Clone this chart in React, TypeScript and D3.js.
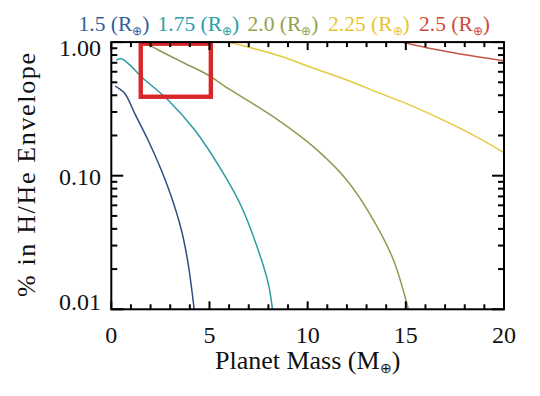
import React from 'react';
import * as d3 from 'd3';

const W = 540;
const H = 396;
const PL = 111.3, PR = 504, PT = 42.1, PB = 309.3;

// Series: planet mass (Earth masses) vs % envelope
const massR15 = [0.2, 0.68, 1.19, 1.87, 2.55, 3.06, 3.57, 3.91, 4.22];
const envR15 = [0.469, 0.414, 0.293, 0.185, 0.11, 0.0696, 0.0392, 0.0221, 0.01];

const massR175 = [0.26, 0.51, 0.9, 1.53, 2.89, 4.25, 5.61, 6.63, 7.48, 7.99, 8.21];
const envR175 = [0.735, 0.75, 0.684, 0.551, 0.369, 0.22, 0.11, 0.0586, 0.0278, 0.0157, 0.01];

const massR20 = [1.65, 2.4, 3.6, 4.93, 5.69, 8.5, 10.29, 11.99, 13.35, 14.37, 15.13];
const envR20 = [1.0, 0.873, 0.71, 0.567, 0.477, 0.261, 0.165, 0.0929, 0.0466, 0.0234, 0.01];

const massR225 = [5.95, 7.2, 8.59, 10.3, 11.99, 13.7, 15.39, 17.93, 20];
const envR225 = [1.0, 0.9, 0.787, 0.638, 0.52, 0.413, 0.329, 0.22, 0.149];

const massR25 = [14.8, 16, 17.5, 20];
const envR25 = [1.0, 0.912, 0.83, 0.726];

const seriesNames = ['1.5', '1.75', '2.0', '2.25', '2.5'];
const lineColors = ['#2c4f82', '#2a9ca2', '#8d9c52', '#e2cc3c', '#c4544a'];
const legendColors = ['#2f5f9c', '#2c9ea8', '#93a24c', '#e8c430', '#d04a3a'];
const legendX = [78.5, 157.5, 247.5, 328, 419];

// Highlight box (data coordinates)
const boxMass = [1.5, 5.07];
const boxEnv = [0.39, 0.973];

const xMajor = [0, 5, 10, 15, 20];
const xMajorLabels = ['0', '5', '10', '15', '20'];
const xMinor = [1, 2, 3, 4, 6, 7, 8, 9, 11, 12, 13, 14, 16, 17, 18, 19];
const yMajor = [0.01, 0.1, 1];
const yMajorLabels = ['0.01', '0.10', '1.00'];
const yMinor = [0.02, 0.03, 0.04, 0.05, 0.06, 0.07, 0.08, 0.09, 0.2, 0.3, 0.4, 0.5, 0.6, 0.7, 0.8, 0.9];
const yLabelBaselines = [309.5, 184.5, 56];

const FONT = '"Liberation Serif", "Times New Roman", serif';

export default function App() {
  const x = d3.scaleLinear().domain([0, 20]).range([PL, PR]);
  const y = d3.scaleLog().domain([0.01, 1]).range([PB, PT]);
  const line = d3
    .line<[number, number]>()
    .x((d) => x(d[0]))
    .y((d) => y(d[1]))
    .curve(d3.curveCatmullRom.alpha(0.5));

  const series = [
    [massR15, envR15],
    [massR175, envR175],
    [massR20, envR20],
    [massR225, envR225],
    [massR25, envR25],
  ];

  const xMajLen = 8, xMinLen = 5, yMajLen = 12, yMinLen = 6;

  return (
    <svg
      width={W}
      height={H}
      style={{ position: 'absolute', left: 0, top: 0, background: '#fff' }}
      fontFamily={FONT}
    >
      <defs>
        <clipPath id="plotclip">
          <rect x={PL} y={PT} width={PR - PL} height={PB - PT} />
        </clipPath>
      </defs>

      {/* Legend */}
      {seriesNames.map((n, i) => (
        <text key={n} x={legendX[i]} y={31} fontSize={21.5} fill={legendColors[i]}>
          {n} (R
          <tspan fontSize={12} dy={4}>⊕</tspan>
          <tspan dy={-4}>)</tspan>
        </text>
      ))}

      {/* Curves */}
      <g clipPath="url(#plotclip)">
        {series.map((s, i) => (
          <path
            key={i}
            d={line(s[0].map((m, j) => [m, s[1][j]]) as [number, number][]) || ''}
            fill="none"
            stroke={lineColors[i]}
            strokeWidth={1.5}
          />
        ))}
      </g>

      {/* Highlight box */}
      <rect
        x={x(boxMass[0])}
        y={y(boxEnv[1])}
        width={x(boxMass[1]) - x(boxMass[0])}
        height={y(boxEnv[0]) - y(boxEnv[1])}
        fill="none"
        stroke="#d8262a"
        strokeWidth={4.4}
      />

      {/* Ticks */}
      <g stroke="#000" strokeWidth={2}>
        {xMajor.map((v) => (
          <g key={'xM' + v}>
            <line x1={x(v)} x2={x(v)} y1={PB} y2={PB - xMajLen} />
            <line x1={x(v)} x2={x(v)} y1={PT} y2={PT + xMajLen} />
          </g>
        ))}
        {xMinor.map((v) => (
          <g key={'xm' + v}>
            <line x1={x(v)} x2={x(v)} y1={PB} y2={PB - xMinLen} />
            <line x1={x(v)} x2={x(v)} y1={PT} y2={PT + xMinLen} />
          </g>
        ))}
        {yMajor.map((v) => (
          <g key={'yM' + v}>
            <line x1={PL} x2={PL + yMajLen} y1={y(v)} y2={y(v)} />
            <line x1={PR} x2={PR - yMajLen} y1={y(v)} y2={y(v)} />
          </g>
        ))}
        {yMinor.map((v) => (
          <g key={'ym' + v}>
            <line x1={PL} x2={PL + yMinLen} y1={y(v)} y2={y(v)} />
            <line x1={PR} x2={PR - yMinLen} y1={y(v)} y2={y(v)} />
          </g>
        ))}
        <rect x={PL} y={PT} width={PR - PL} height={PB - PT} fill="none" />
      </g>

      {/* Tick labels */}
      {xMajor.map((v, i) => (
        <text key={'xl' + v} x={x(v)} y={342.5} fontSize={24} textAnchor="middle" fill="#111">
          {xMajorLabels[i]}
        </text>
      ))}
      {yMajor.map((v, i) => (
        <text key={'yl' + v} x={101} y={yLabelBaselines[i]} fontSize={24} textAnchor="end" fill="#111">
          {yMajorLabels[i]}
        </text>
      ))}

      {/* Axis titles */}
      <text x={(PL + PR) / 2} y={369} fontSize={26} textAnchor="middle" fill="#111">
        Planet Mass (M
        <tspan fontSize={14} dy={4}>⊕</tspan>
        <tspan dy={-4}>)</tspan>
      </text>
      <text
        transform="translate(35,175) rotate(-90)"
        fontSize={26}
        textAnchor="middle"
        fill="#111"
        textLength={244}
        lengthAdjust="spacing"
      >
        % in H/He Envelope
      </text>
    </svg>
  );
}
